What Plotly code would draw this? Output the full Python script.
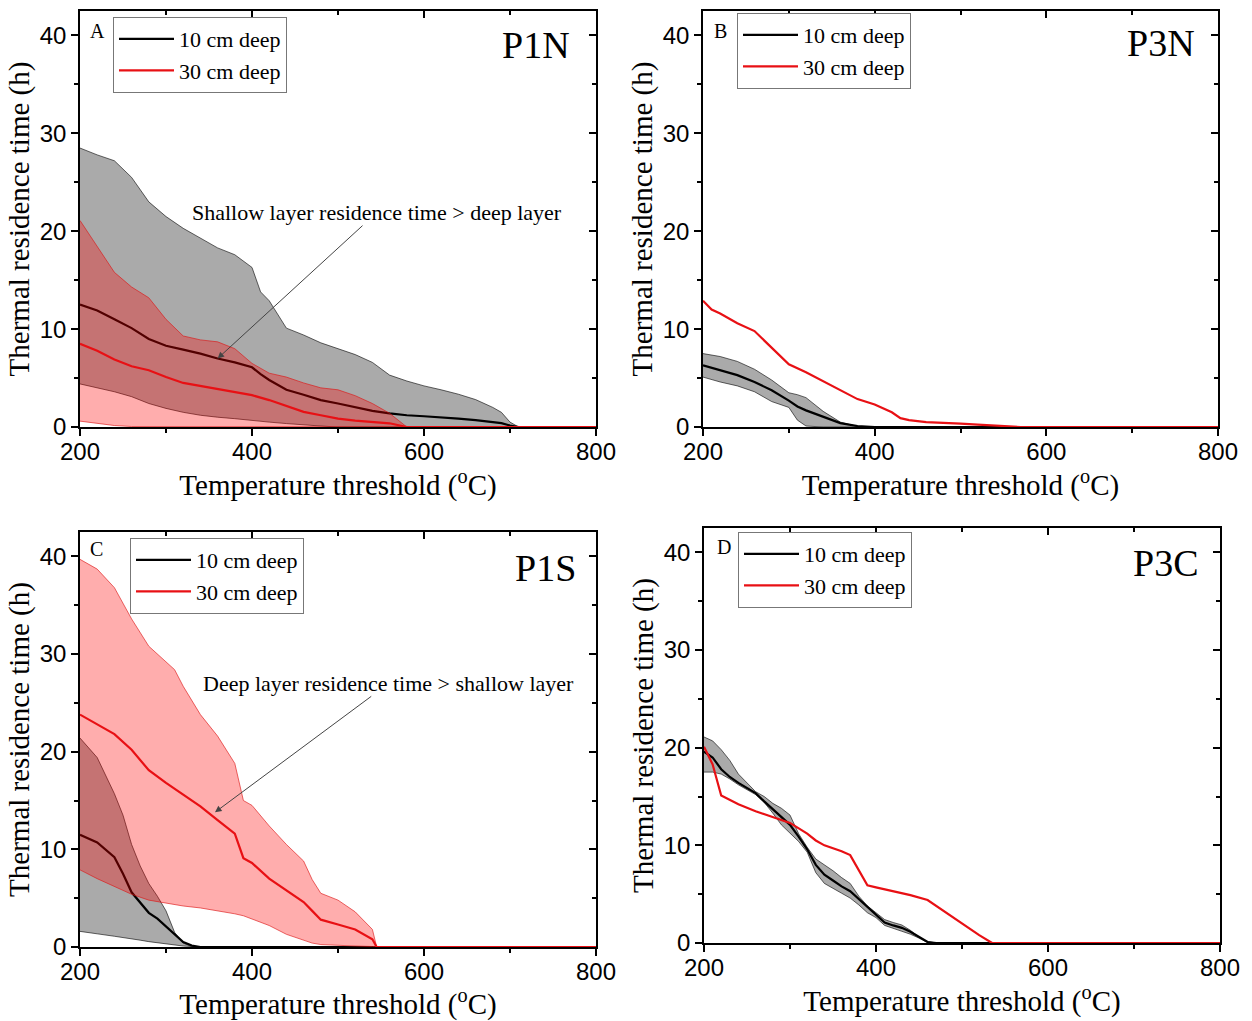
import plotly.graph_objects as go

# ---------------- data: thermal residence time (h) vs temperature threshold (°C) ----------------
# Panel A — P1N
A_T10 = [200, 220, 240, 260, 280, 300, 320, 340, 360, 380, 400, 410, 420, 440, 460, 480, 500,
         520, 540, 560, 580, 600, 620, 640, 660, 680, 690, 700, 710, 800]
A_MEAN10 = [12.5, 11.9, 11.0, 10.1, 9.0, 8.3, 7.9, 7.5, 7.0, 6.6, 6.1, 5.4, 4.8, 3.8, 3.3, 2.75, 2.4,
            2.0, 1.65, 1.4, 1.2, 1.1, 1.0, 0.85, 0.7, 0.5, 0.4, 0.15, 0.0, 0.0]
A_LOW10 = [4.4, 4.0, 3.6, 3.1, 2.4, 1.9, 1.5, 1.2, 1.0, 0.85, 0.7, 0.6, 0.5, 0.35, 0.2, 0.1, 0.0,
           0.0, 0.0, 0.0, 0.0, 0.0, 0.0, 0.0, 0.0, 0.0, 0.0, 0.0, 0.0, 0.0]
A_HIGH10 = [28.5, 27.8, 27.2, 25.5, 23.0, 21.5, 20.3, 19.3, 18.3, 17.6, 16.3, 13.8, 12.9, 10.1, 9.4, 8.6, 8.0,
            7.4, 6.6, 5.3, 4.7, 4.2, 3.8, 3.35, 2.8, 2.0, 1.5, 0.5, 0.0, 0.0]
A_T30 = [200, 220, 240, 260, 280, 300, 320, 340, 360, 380, 400, 420, 440, 460, 480, 500, 520, 540, 560, 580, 800]
A_MEAN30 = [8.5, 7.8, 6.9, 6.2, 5.8, 5.1, 4.5, 4.2, 3.9, 3.6, 3.25, 2.75, 2.15, 1.55, 1.2, 0.85, 0.65, 0.5, 0.38, 0.0, 0.0]
A_LOW30 = [0.6, 0.35, 0.15, 0.05, 0.0, 0.0, 0.0, 0.0, 0.0, 0.0, 0.0, 0.0, 0.0, 0.0, 0.0, 0.0, 0.0, 0.0, 0.0, 0.0, 0.0]
A_HIGH30 = [21.1, 18.5, 15.8, 14.3, 13.2, 11.0, 9.3, 8.9, 8.7, 8.0, 6.5, 5.5, 5.1, 4.5, 4.0, 3.8, 3.2, 2.4, 1.4, 0.0, 0.0]

# Panel B — P3N
B_T10 = [200, 220, 240, 260, 280, 300, 310, 320, 340, 360, 380, 400, 800]
B_MEAN10 = [6.3, 5.8, 5.3, 4.6, 3.75, 2.7, 2.1, 1.7, 1.05, 0.4, 0.1, 0.0, 0.0]
B_LOW10 = [5.1, 4.6, 4.2, 3.6, 2.6, 2.0, 0.7, 0.1, 0.0, 0.0, 0.0, 0.0, 0.0]
B_HIGH10 = [7.5, 7.2, 6.7, 5.9, 4.8, 3.5, 3.3, 3.0, 1.6, 0.5, 0.05, 0.0, 0.0]
B_T30 = [200, 210, 220, 240, 260, 280, 300, 320, 340, 360, 380, 400, 420, 430, 440, 460, 480, 500,
         520, 540, 560, 570, 800]
B_MEAN30 = [12.9, 12.0, 11.6, 10.6, 9.8, 8.1, 6.4, 5.6, 4.7, 3.8, 2.85, 2.3, 1.5, 0.9, 0.7, 0.5, 0.45, 0.35,
            0.25, 0.15, 0.05, 0.0, 0.0]

# Panel C — P1S
C_T10 = [200, 220, 240, 250, 260, 270, 280, 290, 300, 310, 320, 330, 340, 800]
C_MEAN10 = [11.5, 10.7, 9.2, 7.5, 5.6, 4.5, 3.5, 2.9, 2.1, 1.2, 0.5, 0.15, 0.0, 0.0]
C_LOW10 = [1.6, 1.35, 1.1, 0.95, 0.85, 0.7, 0.55, 0.45, 0.3, 0.2, 0.1, 0.05, 0.0, 0.0]
C_HIGH10 = [21.4, 19.4, 15.7, 13.5, 10.5, 8.3, 6.5, 5.2, 3.7, 1.5, 0.4, 0.05, 0.0, 0.0]
C_T30 = [200, 220, 240, 260, 280, 300, 310, 320, 340, 360, 380, 390, 400, 420, 440, 460, 470, 480,
         500, 520, 540, 545, 800]
C_MEAN30 = [23.8, 22.8, 21.8, 20.2, 18.1, 16.8, 16.2, 15.6, 14.4, 13.0, 11.6, 9.1, 8.6, 7.0, 5.8, 4.6, 3.7, 2.8,
            2.3, 1.8, 0.8, 0.0, 0.0]
C_LOW30 = [7.9, 7.0, 6.2, 5.4, 4.8, 4.5, 4.35, 4.2, 4.0, 3.7, 3.4, 3.2, 2.9, 2.2, 1.3, 0.7, 0.4, 0.25,
           0.15, 0.1, 0.05, 0.0, 0.0]
C_HIGH30 = [39.7, 38.7, 36.8, 33.6, 30.8, 29.2, 28.4, 26.7, 23.8, 21.6, 18.8, 15.0, 14.5, 12.4, 10.5, 8.8, 6.9, 5.5,
            4.8, 3.6, 1.8, 0.0, 0.0]

# Panel D — P3C
D_T10 = [200, 210, 220, 230, 240, 250, 260, 270, 280, 290, 300, 310, 320, 330, 340, 350, 360, 370,
         380, 390, 400, 410, 420, 430, 440, 450, 460, 470, 800]
D_MEAN10 = [19.6, 19.0, 17.8, 17.0, 16.4, 15.9, 15.35, 14.5, 13.7, 12.9, 12.1, 10.9, 9.6, 8.0, 7.0, 6.4, 5.8, 5.3,
            4.5, 3.6, 2.8, 2.1, 1.8, 1.55, 1.15, 0.6, 0.1, 0.0, 0.0]
D_LOW10 = [17.5, 17.5, 17.3, 16.8, 16.2, 15.7, 15.2, 14.4, 13.3, 12.1, 11.2, 10.4, 9.3, 7.2, 6.1, 5.6, 5.1, 4.6,
           3.9, 3.1, 2.6, 1.8, 1.5, 1.2, 0.9, 0.5, 0.05, 0.0, 0.0]
D_HIGH10 = [21.1, 20.7, 19.8, 18.7, 17.3, 16.4, 15.5, 15.0, 14.3, 13.8, 13.1, 11.2, 9.8, 8.6, 8.0, 7.4, 6.7, 6.1,
            4.8, 3.8, 3.1, 2.4, 2.1, 1.85, 1.3, 0.6, 0.15, 0.0, 0.0]
D_T30 = [200, 210, 220, 240, 260, 280, 300, 320, 330, 340, 360, 370, 380, 390, 400, 420, 440, 460,
         470, 480, 500, 520, 535, 800]
D_MEAN30 = [20.1, 18.3, 15.1, 14.2, 13.5, 12.9, 12.3, 11.2, 10.5, 10.0, 9.4, 9.0, 7.4, 5.9, 5.7, 5.3, 4.9, 4.4,
            3.8, 3.2, 2.0, 0.8, 0.0, 0.0]

X_TICKS = [200, 400, 600, 800]
X_MINOR = [300, 500, 700]
Y_TICKS = [0, 10, 20, 30, 40]
Y_MINOR = [5, 15, 25, 35]
X_RANGE = [200, 800]
Y_RANGE = [0, 42.5]

PANELS = [
    dict(letter="A", site="P1N", t10=A_T10, m10=A_MEAN10, lo10=A_LOW10, hi10=A_HIGH10,
         t30=A_T30, m30=A_MEAN30, lo30=A_LOW30, hi30=A_HIGH30,
         xdom=[80, 596], ytop=11, ybot=427, legend=(113, 17),
         site_pos=(0.953, 0.919), letter_pos=(0.0155, 0.952)),
    dict(letter="B", site="P3N", t10=B_T10, m10=B_MEAN10, lo10=B_LOW10, hi10=B_HIGH10,
         t30=B_T30, m30=B_MEAN30, lo30=None, hi30=None,
         xdom=[703, 1218], ytop=11, ybot=427, legend=(737, 13),
         site_pos=(0.959, 0.923), letter_pos=(0.0175, 0.952)),
    dict(letter="C", site="P1S", t10=C_T10, m10=C_MEAN10, lo10=C_LOW10, hi10=C_HIGH10,
         t30=C_T30, m30=C_MEAN30, lo30=C_LOW30, hi30=C_HIGH30,
         xdom=[80, 596], ytop=532, ybot=947, legend=(130, 538),
         site_pos=(0.965, 0.913), letter_pos=(0.0155, 0.96)),
    dict(letter="D", site="P3C", t10=D_T10, m10=D_MEAN10, lo10=D_LOW10, hi10=D_HIGH10,
         t30=D_T30, m30=D_MEAN30, lo30=None, hi30=None,
         xdom=[704, 1220], ytop=528, ybot=943, legend=(738, 532),
         site_pos=(0.961, 0.916), letter_pos=(0.021, 0.955)),
]

# notes with arrows (data coordinates of panels A and C): label centre and arrow tip
NOTES = {
    0: dict(text="Shallow layer residence time > deep layer", text_xy=(545, 21.9), tip=(360, 7.0)),
    2: dict(text="Deep layer residence time > shallow layer", text_xy=(559, 27.0), tip=(357, 13.8)),
}

W, H = 1252, 1021
SANS = "Liberation Sans, Arial, sans-serif"
SERIF = "Liberation Serif, Times New Roman, serif"
GREY_FILL = "rgb(170,170,170)"
RED_FILL = "rgba(255,0,0,0.32)"
RED = "rgb(232,16,20)"

fig = go.Figure()
layout = dict(width=W, height=H, autosize=False, margin=dict(l=0, r=0, t=0, b=0, pad=0, autoexpand=False),
              paper_bgcolor="white", plot_bgcolor="white", showlegend=True,
              annotations=[])

for i, p in enumerate(PANELS):
    s = "" if i == 0 else str(i + 1)
    xa, ya = "x" + s, "y" + s
    leg = "legend" if i == 0 else "legend" + str(i + 1)

    # 10 cm band + mean
    fig.add_trace(go.Scatter(x=p["t10"] + p["t10"][::-1], y=p["hi10"] + p["lo10"][::-1],
                             fill="toself", fillcolor=GREY_FILL, mode="lines",
                             line=dict(color="rgba(0,0,0,0.75)", width=0.8),
                             xaxis=xa, yaxis=ya, showlegend=False, hoverinfo="skip"))
    fig.add_trace(go.Scatter(x=p["t10"], y=p["m10"], mode="lines", name="10 cm deep",
                             line=dict(color="black", width=2.2), xaxis=xa, yaxis=ya, legend=leg))
    # 30 cm band + mean
    if p["lo30"] is not None:
        fig.add_trace(go.Scatter(x=p["t30"] + p["t30"][::-1], y=p["hi30"] + p["lo30"][::-1],
                                 fill="toself", fillcolor=RED_FILL, mode="lines",
                                 line=dict(color="rgba(220,20,20,0.8)", width=0.8),
                                 xaxis=xa, yaxis=ya, showlegend=False, hoverinfo="skip"))
    fig.add_trace(go.Scatter(x=p["t30"], y=p["m30"], mode="lines", name="30 cm deep",
                             line=dict(color=RED, width=2.2), xaxis=xa, yaxis=ya, legend=leg))

    xdom = [p["xdom"][0] / W, p["xdom"][1] / W]
    ydom = [(H - p["ybot"]) / H, (H - p["ytop"]) / H]
    tickfont = dict(family=SANS, size=24, color="black")
    common = dict(showgrid=False, zeroline=False, showline=True, linecolor="black", linewidth=1.5,
                  tickcolor="black", tickwidth=1.5, automargin=False)

    layout["xaxis" + s] = dict(domain=xdom, range=X_RANGE, anchor=ya, tickmode="array",
                               tickvals=X_TICKS, ticks="outside", ticklen=7, tickfont=tickfont,
                               ticklabelstandoff=-5,
                               minor=dict(tickmode="array", tickvals=X_MINOR, ticks="outside",
                                          ticklen=4, tickwidth=1.5, tickcolor="black"),
                               title=dict(text="Temperature threshold (<sup>o</sup>C)",
                                          font=dict(family=SERIF, size=29, color="black"),
                                          standoff=2),
                               **common)
    layout["yaxis" + s] = dict(domain=ydom, range=Y_RANGE, anchor=xa, tickmode="array",
                               tickvals=Y_TICKS, ticks="outside", ticklen=7, tickfont=tickfont,
                               minor=dict(tickmode="array", tickvals=Y_MINOR, ticks="outside",
                                          ticklen=4, tickwidth=1.5, tickcolor="black"),
                               title=dict(text="Thermal residence time (h)",
                                          font=dict(family=SERIF, size=29, color="black"),
                                          standoff=2),
                               **common)
    # mirrored frame: top and right axes with inward ticks
    k = str(i + 5)
    layout["xaxis" + k] = dict(overlaying=xa, side="top", anchor=ya, range=X_RANGE,
                               tickmode="array", tickvals=X_TICKS, ticks="inside", ticklen=7,
                               showticklabels=False,
                               minor=dict(tickmode="array", tickvals=X_MINOR, ticks="inside",
                                          ticklen=4, tickwidth=1.5, tickcolor="black"),
                               **common)
    layout["yaxis" + k] = dict(overlaying=ya, side="right", anchor=xa, range=Y_RANGE,
                               tickmode="array", tickvals=Y_TICKS, ticks="inside", ticklen=7,
                               showticklabels=False,
                               minor=dict(tickmode="array", tickvals=Y_MINOR, ticks="inside",
                                          ticklen=4, tickwidth=1.5, tickcolor="black"),
                               **common)
    fig.add_trace(go.Scatter(x=[None], y=[None], xaxis="x" + k, yaxis="y" + k,
                             showlegend=False, hoverinfo="skip"))

    layout[leg] = dict(x=p["legend"][0] / W, y=(H - p["legend"][1]) / H, xanchor="left", yanchor="top",
                       bgcolor="white", bordercolor="#777777", borderwidth=1,
                       font=dict(family=SERIF, size=22, color="black"),
                       itemwidth=55, tracegroupgap=0)

    layout["annotations"].append(dict(text=p["site"], xref=xa + " domain", yref=ya + " domain",
                                      x=p["site_pos"][0], y=p["site_pos"][1], xanchor="right",
                                      yanchor="middle", showarrow=False,
                                      font=dict(family=SERIF, size=38, color="black")))
    layout["annotations"].append(dict(text=p["letter"], xref=xa + " domain", yref=ya + " domain",
                                      x=p["letter_pos"][0], y=p["letter_pos"][1], xanchor="left",
                                      yanchor="middle", showarrow=False,
                                      font=dict(family=SERIF, size=20, color="black")))
    if i in NOTES:
        n = NOTES[i]
        # label placed at (ax, ay); the arrow runs from the label box to the tip
        layout["annotations"].append(dict(text=n["text"], x=n["tip"][0], y=n["tip"][1],
                                          xref=xa, yref=ya, ax=n["text_xy"][0], ay=n["text_xy"][1],
                                          axref=xa, ayref=ya, showarrow=True, arrowhead=2,
                                          arrowsize=1.3, arrowwidth=1, arrowcolor="#444444",
                                          standoff=0, borderpad=0,
                                          font=dict(family=SERIF, size=22, color="black")))

fig.update_layout(**layout)
fig.write_html("out.html")
